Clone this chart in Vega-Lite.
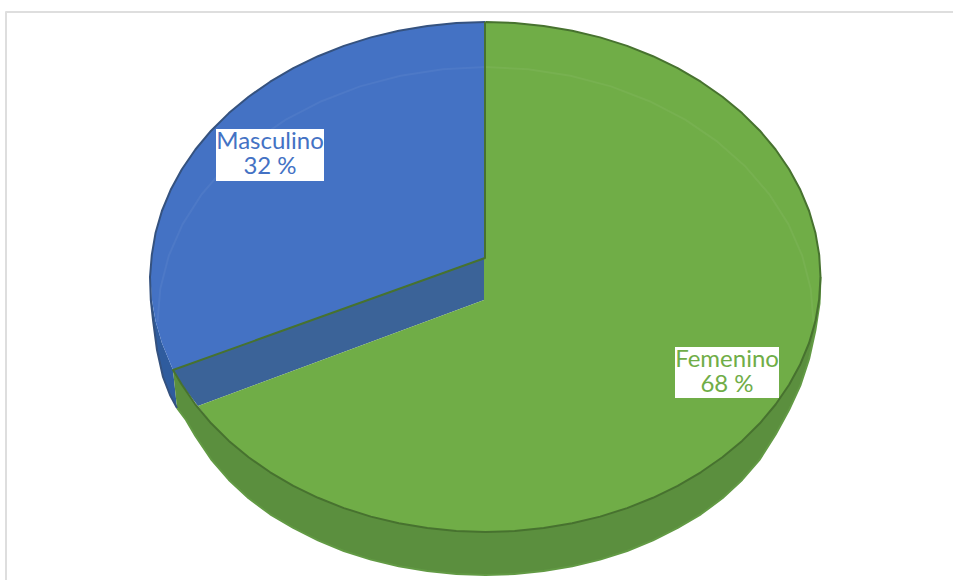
{
"$schema":"https://vega.github.io/schema/vega-lite/v6.json",
"autosize":{"type":"fit","contains":"padding"},
"width":953,"height":580,"padding":0,
"background":"#ffffff",
"view":{"stroke":null},
"projection":{"type":"identity","scale":1,"translate":[0,0]},
"resolve":{"scale":{"color":"independent","stroke":"independent"}},
"datasets":{
"piezas":[
{"type":"Feature","properties":{"parte":"pared_masculino"},"geometry":{"type":"Polygon","coordinates":[[[151.8,254.8],[150,277],[150.8,300],[153,320],[157,350],[163,377],[170,395],[177,408],[173,370],[161.9,343],[155.6,321.3],[151.8,299.2],[150.5,277],[151.8,254.8]]]}},
{"type":"Feature","properties":{"parte":"pared_femenino"},"geometry":{"type":"Polygon","coordinates":[[[173,370],[181.9,384.8],[195.4,404.5],[211.1,423.3],[228.9,440.9],[248.6,457.3],[270.2,472.3],[293.3,485.9],[318,497.8],[343.9,508.1],[370.9,516.6],[398.8,523.3],[427.3,528.1],[456.3,531],[485.5,532],[514.7,531],[543.7,528.1],[572.2,523.3],[600.1,516.6],[627.1,508.1],[653,497.8],[677.7,485.9],[700.8,472.3],[722.4,457.3],[742.1,440.9],[759.9,423.3],[775.6,404.5],[789.1,384.8],[800.3,364.2],[809.1,343],[815.4,321.3],[819.2,299.2],[820.5,277],[819.5,303.7],[815.4,330.3],[809.1,359],[800.3,385.7],[789.1,409.8],[775.6,434.5],[759.9,459.3],[742.1,479.9],[722.4,498.3],[700.8,514.3],[677.7,527.9],[653,540.3],[627.1,551],[600.1,559.6],[572.2,566.3],[543.7,571.1],[514.7,574],[485.5,575],[456.3,574],[427.3,571.1],[398.8,566.3],[370.9,559.6],[343.9,551],[318,540.3],[293.3,527.9],[270.2,514.3],[248.6,498.3],[228.9,479.9],[211.1,459.3],[195.4,436],[186,420],[177,408],[173,370]]]}},
{"type":"Feature","properties":{"parte":"cara_masculino"},"geometry":{"type":"Polygon","coordinates":[[[485.5,22],[456.3,23],[427.3,25.9],[398.8,30.7],[370.9,37.4],[343.9,45.9],[318,56.2],[293.3,68.1],[270.2,81.7],[248.6,96.7],[228.9,113.1],[211.1,130.7],[195.4,149.5],[181.9,169.2],[170.7,189.8],[161.9,211],[155.6,232.7],[151.8,254.8],[150.5,277],[151.8,299.2],[155.6,321.3],[161.9,343],[173,370],[485,258],[485.5,22]]]}},
{"type":"Feature","properties":{"parte":"corte"},"geometry":{"type":"Polygon","coordinates":[[[484,258],[173,370],[181.9,384.8],[198,406],[484,300],[484,258]]]}},
{"type":"Feature","properties":{"parte":"cara_femenino"},"geometry":{"type":"Polygon","coordinates":[[[485.5,22],[514.7,23],[543.7,25.9],[572.2,30.7],[600.1,37.4],[627.1,45.9],[653,56.2],[677.7,68.1],[700.8,81.7],[722.4,96.7],[742.1,113.1],[759.9,130.7],[775.6,149.5],[789.1,169.2],[800.3,189.8],[809.1,211],[815.4,232.7],[819.2,254.8],[820.5,277],[819.2,299.2],[815.4,321.3],[809.1,343],[800.3,364.2],[789.1,384.8],[775.6,404.5],[759.9,423.3],[742.1,440.9],[722.4,457.3],[700.8,472.3],[677.7,485.9],[653,497.8],[627.1,508.1],[600.1,516.6],[572.2,523.3],[543.7,528.1],[514.7,531],[485.5,532],[456.3,531],[427.3,528.1],[398.8,523.3],[370.9,516.6],[343.9,508.1],[318,497.8],[293.3,485.9],[270.2,472.3],[248.6,457.3],[228.9,440.9],[211.1,423.3],[198,406],[484,300],[484,258],[485.5,258],[485.5,22]]]}}
],
"bordes":[
{"type":"Feature","properties":{"parte":"marco"},"geometry":{"type":"LineString","coordinates":[[6,580],[6,12],[953,12]]}},
{"type":"Feature","properties":{"parte":"relieve"},"geometry":{"type":"LineString","coordinates":[[157.5,322],[160.3,288.7],[168.7,256],[182.5,224.4],[201.5,194.5],[225.3,166.8],[253.6,141.7],[285.8,119.7],[321.5,101.2],[360,86.4],[400.6,75.7],[442.7,69.2],[485.5,67],[528.3,69.2],[570.4,75.7],[611,86.4],[649.5,101.2],[685.2,119.7],[717.4,141.7],[745.7,166.8],[769.5,194.5],[788.5,224.4],[802.3,256],[810.7,288.7],[813.5,322]]}},
{"type":"Feature","properties":{"parte":"base"},"geometry":{"type":"LineString","coordinates":[[177,408],[186,420],[195.4,436],[211.1,459.3],[228.9,479.9],[248.6,498.3],[270.2,514.3],[293.3,527.9],[318,540.3],[343.9,551],[370.9,559.6],[398.8,566.3],[427.3,571.1],[456.3,574],[485.5,575],[514.7,574],[543.7,571.1],[572.2,566.3],[600.1,559.6],[627.1,551],[653,540.3],[677.7,527.9],[700.8,514.3],[722.4,498.3],[742.1,479.9],[759.9,459.3],[775.6,434.5],[789.1,409.8],[800.3,385.7],[809.1,359],[815.4,330.3],[819.5,303.7],[820.5,277]]}},
{"type":"Feature","properties":{"parte":"arco_azul"},"geometry":{"type":"LineString","coordinates":[[485.5,22],[456.3,23],[427.3,25.9],[398.8,30.7],[370.9,37.4],[343.9,45.9],[318,56.2],[293.3,68.1],[270.2,81.7],[248.6,96.7],[228.9,113.1],[211.1,130.7],[195.4,149.5],[181.9,169.2],[170.7,189.8],[161.9,211],[155.6,232.7],[151.8,254.8],[150,277],[150.8,300],[153,320],[157,350],[163,377],[170,395],[177,408]]}},
{"type":"Feature","properties":{"parte":"arco_verde"},"geometry":{"type":"LineString","coordinates":[[485.5,22],[514.7,23],[543.7,25.9],[572.2,30.7],[600.1,37.4],[627.1,45.9],[653,56.2],[677.7,68.1],[700.8,81.7],[722.4,96.7],[742.1,113.1],[759.9,130.7],[775.6,149.5],[789.1,169.2],[800.3,189.8],[809.1,211],[815.4,232.7],[819.2,254.8],[820.5,277],[819.2,299.2],[815.4,321.3],[809.1,343],[800.3,364.2],[789.1,384.8],[775.6,404.5],[759.9,423.3],[742.1,440.9],[722.4,457.3],[700.8,472.3],[677.7,485.9],[653,497.8],[627.1,508.1],[600.1,516.6],[572.2,523.3],[543.7,528.1],[514.7,531],[485.5,532],[456.3,531],[427.3,528.1],[398.8,523.3],[370.9,516.6],[343.9,508.1],[318,497.8],[293.3,485.9],[270.2,472.3],[248.6,457.3],[228.9,440.9],[211.1,423.3],[195.4,404.5],[181.9,384.8],[173,370],[485,258],[485,22]]}}
],
"cajas":[
{"type":"Feature","properties":{"sexo":"Masculino"},"geometry":{"type":"Polygon","coordinates":[[[216,129],[324,129],[324,181],[216,181],[216,129]]]}},
{"type":"Feature","properties":{"sexo":"Femenino"},"geometry":{"type":"Polygon","coordinates":[[[675,347],[779,347],[779,398],[675,398],[675,347]]]}}
],
"etiquetas":[
{"sexo":"Masculino","porcentaje":32,"lon":270,"lat":142},
{"sexo":"Femenino","porcentaje":68,"lon":727,"lat":360}
]
},
"layer":[
{"data":{"name":"piezas"},"mark":{"type":"geoshape","strokeWidth":0},
"encoding":{"color":{"field":"properties.parte","type":"nominal","legend":null,
"scale":{"domain":["pared_masculino","pared_femenino","cara_masculino","corte","cara_femenino"],"range":["#2F5C9E","#5B8F3E","#4472C4","#3B6398","#70AD47"]}}}},
{"data":{"name":"bordes"},"mark":{"type":"geoshape","filled":false,"strokeWidth":2,"strokeJoin":"round"},
"encoding":{"stroke":{"field":"properties.parte","type":"nominal","legend":null,
"scale":{"domain":["marco","relieve","base","arco_azul","arco_verde"],"range":["#DEDEDE","rgba(255,255,255,0.05)","#629A44","#35527F","#47722F"]}}}},
{"data":{"name":"cajas"},"mark":{"type":"geoshape","fill":"#ffffff","strokeWidth":0}},
{"data":{"name":"etiquetas"},
"transform":[{"calculate":"datum.sexo + '\\n' + datum.porcentaje + ' %'","as":"rotulo"}],
"mark":{"type":"text","font":"Lato","fontSize":24,"lineHeight":25,"lineBreak":"\n","align":"center","baseline":"middle"},
"encoding":{"longitude":{"field":"lon","type":"quantitative"},"latitude":{"field":"lat","type":"quantitative"},
"text":{"field":"rotulo","type":"nominal"},
"color":{"field":"sexo","type":"nominal","legend":null,"scale":{"domain":["Masculino","Femenino"],"range":["#4472C4","#70AD47"]}}}}
]
}
